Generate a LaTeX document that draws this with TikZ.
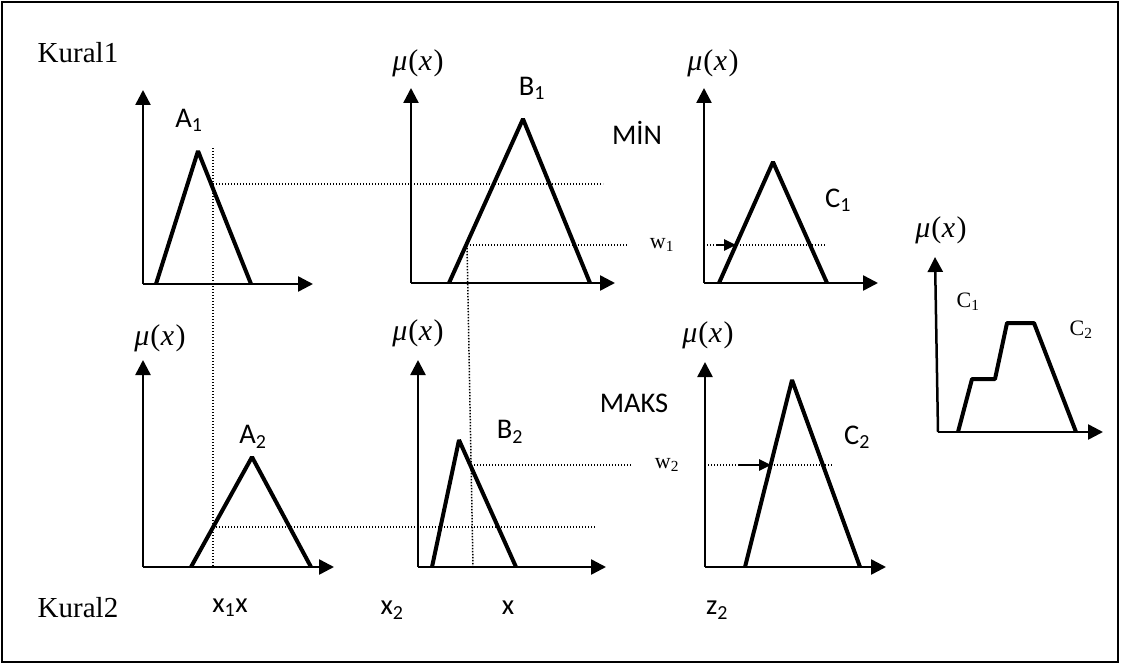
\documentclass[tikz,border=0pt]{standalone}
\usepackage{fontspec}
\setmainfont{Liberation Serif}
\newfontfamily\calib{Carlito}
\usetikzlibrary{arrows.meta}
\newcommand{\muofx}{{\itshape μ}\kern1pt(\kern0.5pt{\itshape x}\kern1.5pt)}
\tikzset{
 axis/.style={line width=2.5pt, -{Triangle[length=15pt,width=15pt]}},
 mf/.style={line width=4pt, line join=bevel},
 dots/.style={line width=1.5pt, dash pattern=on 1.4pt off 1.6pt},
 cut/.style={line width=2.5pt, -{Triangle[length=12pt,width=11pt]}},
 lab/.style={font=\calib\fontsize{28.5}{28.5}\selectfont, inner sep=0pt},
 mu/.style={font=\fontsize{30}{30}\selectfont, inner sep=0pt},
 rulelab/.style={font=\fontsize{29}{29}\selectfont, inner sep=0pt},
 small/.style={font=\fontsize{22}{22}\selectfont, inner sep=0pt},
}
\begin{document}
\begin{tikzpicture}[x=1pt,y=-1pt]
\useasboundingbox (0,0) rectangle (1123,666);
\draw[line width=2pt] (2,2) rectangle (1118,662);

% dotted guide lines (drawn first)
\coordinate (v1t) at (213,148); \coordinate (v1b) at (213,567);
\draw[dots] (v1t) -- (v1b);
\coordinate (h1a) at (213,184); \coordinate (h1b) at (603,184);
\draw[dots] (h1a) -- (h1b);
\coordinate (w1a) at (467,245); \coordinate (w1b) at (628,245);
\draw[dots] (w1a) -- (w1b);
\coordinate (v2b) at (473,567);
\draw[dots] (w1a) -- (v2b);
\coordinate (c1a) at (704,245); \coordinate (c1b) at (825,245);
\draw[dots] (c1a) -- (c1b);
\coordinate (h2a) at (213,527); \coordinate (h2b) at (595,527);
\draw[dots] (h2a) -- (h2b);
\coordinate (w2a) at (471,465); \coordinate (w2b) at (632,465);
\draw[dots] (w2a) -- (w2b);
\coordinate (c2a) at (705,465); \coordinate (c2b) at (833,465);
\draw[dots] (c2a) -- (c2b);

% A1
\coordinate (oA1) at (143,284);
\draw[axis] (oA1) -- (143,90);
\draw[axis] (oA1) -- (313,284);
\draw[mf] (156,284) -- (198,151) -- (251,284);
% B1
\coordinate (oB1) at (411,283);
\draw[axis] (oB1) -- (411,88);
\draw[axis] (oB1) -- (615,283);
\draw[mf] (449,283) -- (523,119) -- (590,283);
% C1
\coordinate (oC1) at (704,283);
\draw[axis] (oC1) -- (704,88);
\draw[axis] (oC1) -- (878,283);
\draw[mf] (719,283) -- (773,162) -- (827,283);
% A2
\coordinate (oA2) at (143,567);
\draw[axis] (oA2) -- (143,360);
\draw[axis] (oA2) -- (334,567);
\draw[mf] (191,567) -- (252,457) -- (311,567);
% B2
\coordinate (oB2) at (418,567);
\draw[axis] (oB2) -- (418,360);
\draw[axis] (oB2) -- (606,567);
\draw[mf] (432,567) -- (459,440) -- (516,567);
% C2
\coordinate (oC2) at (705,567);
\draw[axis] (oC2) -- (705,362);
\draw[axis] (oC2) -- (886,567);
\draw[mf] (745,567) -- (792,380) -- (860,567);
% aggregated output
\coordinate (oF) at (938,432);
\draw[axis] (oF) -- (935,257);
\draw[axis] (oF) -- (1103,432);
\draw[mf] (958,432) -- (972,379) -- (995,379) -- (1007,323) -- (1034,323) -- (1076,432);

% cut arrows
\coordinate (a1s) at (717,245); \coordinate (a1e) at (736,245);
\draw[cut] (a1s) -- (a1e);
\coordinate (a2s) at (738,465); \coordinate (a2e) at (771,465);
\draw[cut] (a2s) -- (a2e);

% labels
\node[rulelab] (k1) at (78,53) {Kural1};
\node[rulelab] (k2) at (78,608) {Kural2};
\node[lab] (lA1) at (189,120) {A\textsubscript{1}};
\node[lab] (lB1) at (532,88) {B\textsubscript{1}};
\node[lab] (lmin) at (637,133) {MİN};
\node[lab] (lC1) at (838,200) {C\textsubscript{1}};
\node[lab] (lA2) at (253,437) {A\textsubscript{2}};
\node[lab] (lB2) at (510,432) {B\textsubscript{2}};
\node[lab] (lmaks) at (634,403) {MAKS};
\node[lab] (lC2) at (857,437) {C\textsubscript{2}};
\node[mu] (m1) at (418,63) {\muofx};
\node[mu] (m2) at (713,63) {\muofx};
\node[mu] (m3) at (160,338) {\muofx};
\node[mu] (m4) at (418,333) {\muofx};
\node[mu] (m5) at (708,335) {\muofx};
\node[mu] (m6) at (941,230) {\muofx};
\node[small] (lw1) at (662,245) {w\textsubscript{1}};
\node[small] (lw2) at (667,465) {w\textsubscript{2}};
\node[lab] (lx1) at (230,608) {x\textsubscript{1}x};
\node[lab] (lx2) at (392,610) {x\textsubscript{2}};
\node[lab] (lx) at (508,608) {x};
\node[lab] (lz2) at (717,610) {z\textsubscript{2}};
\node[small] (fC1) at (968,302) {C\textsubscript{1}};
\node[small] (fC2) at (1081,330) {C\textsubscript{2}};
\end{tikzpicture}
\end{document}
